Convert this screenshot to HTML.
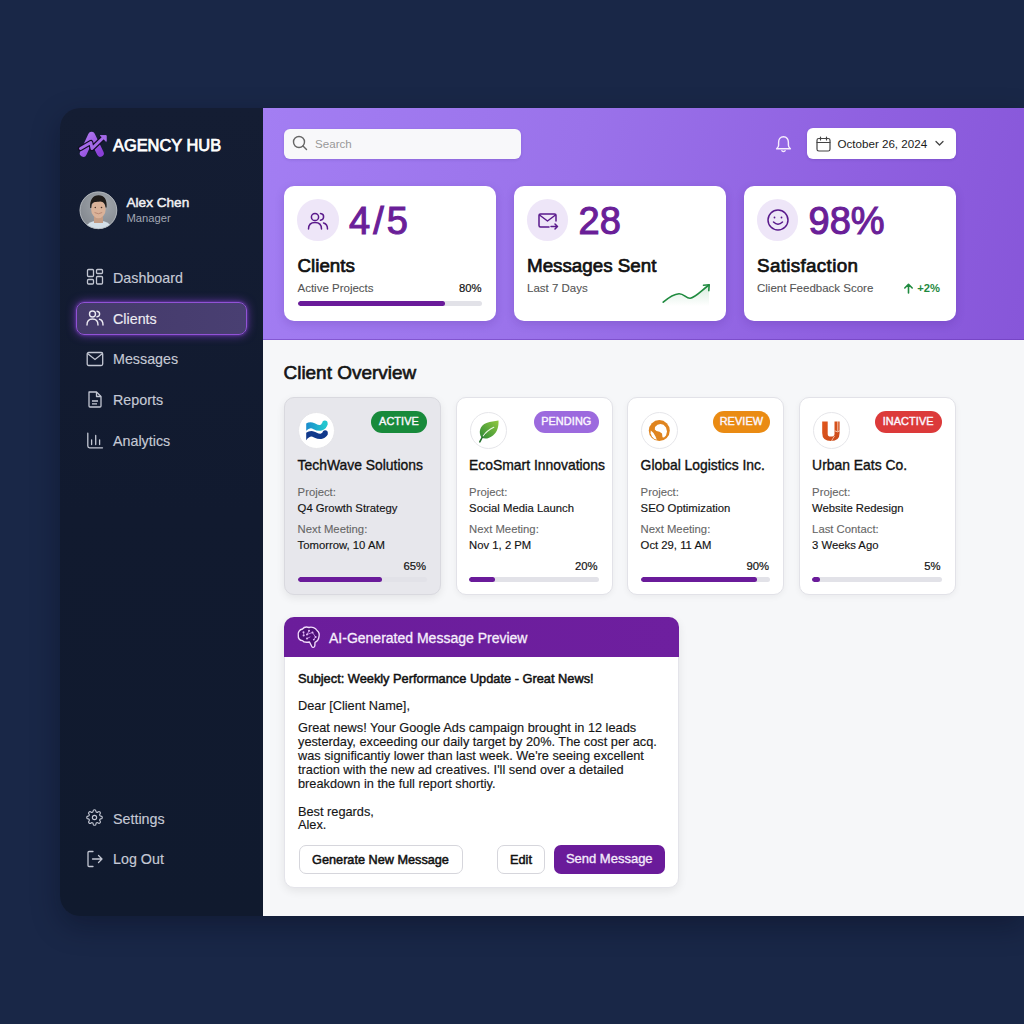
<!DOCTYPE html>
<html><head><meta charset="utf-8">
<style>
*{margin:0;padding:0;box-sizing:border-box}
html,body{width:1024px;height:1024px;overflow:hidden}
body{background:#192747;font-family:"Liberation Sans",sans-serif;position:relative;color:#111}
.a{position:absolute;white-space:nowrap;line-height:1}
.panel{position:absolute;left:60px;top:108px;width:964px;height:808px;border-radius:20px 0 0 20px;overflow:hidden;box-shadow:0 10px 28px rgba(5,10,25,0.35)}
.main{position:absolute;left:202.5px;top:0;right:0;bottom:0;background:#f6f7f9}
.side{position:absolute;left:0;top:0;width:202.5px;height:808px;background:linear-gradient(180deg,#141d33 0%,#111a2f 50%,#101a2e 100%)}
.hdr{position:absolute;left:202.5px;top:0;right:0;height:232px;border-bottom:1px solid rgba(95,45,170,0.45);background:linear-gradient(105deg,#a37ef3 0%,#9a72ea 40%,#8f60e0 75%,#8756d9 100%)}
.nav{color:#c5c9d5;font-size:14.3px;-webkit-text-stroke:0.15px #c5c9d5}
.card{position:absolute;background:#fff;border-radius:10px;box-shadow:0 3px 10px rgba(60,20,120,0.18)}
.ic{position:absolute;border-radius:50%;background:#eee6f8}
.big{color:#6a1f98;font-size:38px;-webkit-text-stroke:1.1px #6a1f98}
.ttl{font-size:18.8px;color:#111;-webkit-text-stroke:0.7px #111}
.sub{font-size:11.5px;color:#555;-webkit-text-stroke:0.1px #555}
.bar{position:absolute;height:5px;border-radius:3px;background:#e2e2e8;overflow:hidden}
.bar i{position:absolute;left:0;top:0;bottom:0;background:#6a1b9a;border-radius:3px}
.cc{position:absolute;top:397px;width:157px;height:198px;background:#fff;border:1px solid #e2e2e8;border-radius:10px;box-shadow:0 2px 6px rgba(0,0,0,0.05)}
.logo{position:absolute;left:13px;top:13.5px;width:37px;height:37px;border-radius:50%;background:#fff;border:1px solid #e6e6ea}
.badge{position:absolute;right:13px;top:13px;height:21.5px;border-radius:11px;color:#fbf6fe;font-size:10.9px;line-height:21.5px;text-align:center;-webkit-text-stroke:0.4px #fbf6fe;letter-spacing:0.1px}
.cn{font-size:13.9px;color:#111;-webkit-text-stroke:0.35px #111}
.lb{font-size:11.3px;color:#666;-webkit-text-stroke:0.1px #666}
.vl{font-size:11.3px;color:#141414;-webkit-text-stroke:0.15px #141414}
.pc{font-size:11.3px;color:#141414;-webkit-text-stroke:0.2px #141414}
.btn{position:absolute;top:845px;height:28.5px;border-radius:7px;font-size:12.7px;line-height:28.5px;text-align:center;-webkit-text-stroke:0.5px #111}
</style></head><body>
<div class="panel">
  <div class="main"></div>
  <div class="side"></div>
  <div class="hdr"></div>
</div>

<!-- SIDEBAR -->
<svg class="a" style="left:74px;top:126px" width="36" height="34" viewBox="0 0 36 34">
  <defs><linearGradient id="lg" x1="0" y1="0" x2="1" y2="1"><stop offset="0" stop-color="#b07af0"/><stop offset="1" stop-color="#8a3fd8"/></linearGradient></defs>
  <path d="M9.3 27.3 L17.6 9.3 L26.3 27.3" fill="none" stroke="url(#lg)" stroke-width="7" stroke-linecap="round" stroke-linejoin="round"/>
  <path d="M6.5 22.5 L16.8 16.5 L18 22.5 L29.5 11.5" fill="none" stroke="#120d24" stroke-width="5.2" stroke-linecap="round" stroke-linejoin="round"/>
  <path d="M6.5 22.5 L16.8 16.5 L18 22.5 L29.5 11.5" fill="none" stroke="#a46ae8" stroke-width="3" stroke-linecap="round" stroke-linejoin="round"/>
  <path d="M26.3 9.6 L32.2 9.6 L32.2 15.4 Z" fill="#a46ae8" stroke="#a46ae8" stroke-width="1" stroke-linejoin="round"/>
</svg>
<div class="a" style="left:113px;top:137.3px;font-size:16.4px;color:#fff;-webkit-text-stroke:0.75px #fff">AGENCY HUB</div>

<svg class="a" style="left:79px;top:190.5px" width="39" height="39" viewBox="0 0 39 39">
  <defs><clipPath id="avc"><circle cx="19.4" cy="19.3" r="18.6"/></clipPath>
  <radialGradient id="avbg" cx="0.6" cy="0.35" r="0.75"><stop offset="0" stop-color="#a3a8ae"/><stop offset="1" stop-color="#7f848b"/></radialGradient></defs>
  <g clip-path="url(#avc)">
    <rect width="39" height="39" fill="url(#avbg)"/>
    <ellipse cx="19.6" cy="42" rx="15.5" ry="12.5" fill="#d4dfe8"/>
    <rect x="15" y="23" width="9" height="9" fill="#c49c84"/>
    <ellipse cx="19.4" cy="18" rx="7.3" ry="9.2" fill="#dab299"/>
    <path d="M11.2 17 C 10.6 8.5, 14 4.3, 19.6 4.3 C 25.2 4.3, 28.2 8.5, 27.6 16.5 L 26.6 16.5 C 26.2 12.5, 24.5 10.6, 21.2 10.4 C 17 10.8, 13.8 10.6, 12.6 13.6 L 12.2 17 Z" fill="#1f1b19"/>
    <path d="M15.6 21.5 Q19.4 24 23.2 21.5" stroke="#b07e6a" stroke-width="0.8" fill="none"/>
    <circle cx="16.3" cy="16.5" r="0.8" fill="#4a3428"/><circle cx="22.5" cy="16.5" r="0.8" fill="#4a3428"/>
  </g>
  <circle cx="19.4" cy="19.3" r="18.4" fill="none" stroke="#b5bac0" stroke-width="0.9"/>
</svg>
<div class="a" style="left:126.5px;top:196px;font-size:13.6px;color:#f2f2f5;-webkit-text-stroke:0.45px #f2f2f5">Alex Chen</div>
<div class="a" style="left:126.5px;top:213px;font-size:11.2px;color:#a3a8b5">Manager</div>

<!-- nav icons -->
<svg class="a" style="left:86px;top:268px" width="18" height="18" viewBox="0 0 18 18" fill="none" stroke="#c3c7d3" stroke-width="1.3">
  <rect x="1.5" y="1.5" width="6" height="7" rx="1"/><rect x="10.5" y="1.5" width="6" height="4" rx="1"/><rect x="1.5" y="11.5" width="6" height="4.5" rx="1"/><rect x="10.5" y="8.5" width="6" height="7.5" rx="1"/>
</svg>
<div class="a nav" style="left:113px;top:271.0px">Dashboard</div>

<div class="a" style="left:76px;top:302px;width:171px;height:33px;border-radius:8px;background:linear-gradient(90deg,#443a6a,#493f72);border:1.5px solid #9152d6;box-shadow:0 0 10px rgba(145,70,225,0.7),0 0 3px rgba(145,70,225,0.6)"></div>
<svg class="a" style="left:86px;top:309px" width="18" height="18" viewBox="0 0 18 18" fill="none" stroke="#eceaf2" stroke-width="1.4" stroke-linecap="round">
  <circle cx="6.5" cy="5" r="3"/><path d="M1 16 Q1 10 6.5 10 Q12 10 12 16"/><path d="M11 2.2 Q13.8 2.6 13.6 5.2 Q13.4 7.4 11 7.8"/><path d="M13.5 10.3 Q17 11.2 17 16"/>
</svg>
<div class="a nav" style="left:113px;top:312.0px;color:#eceaf2;-webkit-text-stroke:0.15px #eceaf2">Clients</div>

<svg class="a" style="left:86px;top:350px" width="18" height="18" viewBox="0 0 18 18" fill="none" stroke="#c3c7d3" stroke-width="1.3">
  <rect x="1.2" y="2.5" width="15.5" height="13" rx="1.5"/><path d="M1.5 3.5 L9 9.5 L16.5 3.5"/>
</svg>
<div class="a nav" style="left:113px;top:352.35px">Messages</div>

<svg class="a" style="left:86px;top:390px" width="18" height="18" viewBox="0 0 18 18" fill="none" stroke="#c3c7d3" stroke-width="1.3" stroke-linejoin="round">
  <path d="M3 2 L10.5 2 L15 6.5 L15 16 Q15 17 14 17 L4 17 Q3 17 3 16 Z"/><path d="M10.5 2 L10.5 6.5 L15 6.5"/><path d="M6 11 L12 11 M6 13.8 L11 13.8"/>
</svg>
<div class="a nav" style="left:113px;top:392.85px">Reports</div>

<svg class="a" style="left:86px;top:431px" width="18" height="18" viewBox="0 0 18 18" fill="none" stroke="#c3c7d3" stroke-width="1.3" stroke-linecap="round">
  <path d="M1.8 2.2 L1.8 15 Q1.8 16.8 3.6 16.8 L16.5 16.8"/><path d="M5.6 8.8 L5.6 13.5 M9.7 4.4 L9.7 13.5 M13.6 8.8 L13.6 13.5"/>
</svg>
<div class="a nav" style="left:113px;top:433.85px">Analytics</div>

<svg class="a" style="left:86.3px;top:808.8px" width="17" height="17" viewBox="0 0 24 24" fill="none" stroke="#c3c7d3" stroke-width="1.6">
  <circle cx="12" cy="12" r="3"/><path d="M19.4 15a1.65 1.65 0 0 0 .33 1.82l.06.06a2 2 0 0 1-2.83 2.83l-.06-.06a1.65 1.65 0 0 0-1.82-.33 1.65 1.65 0 0 0-1 1.51V21a2 2 0 0 1-4 0v-.09A1.65 1.65 0 0 0 9 19.4a1.65 1.65 0 0 0-1.82.33l-.06.06a2 2 0 0 1-2.830-2.83l.06-.06A1.65 1.65 0 0 0 4.6 15a1.65 1.65 0 0 0-1.51-1H3a2 2 0 0 1 0-4h.09A1.65 1.65 0 0 0 4.6 9a1.65 1.65 0 0 0-.33-1.82l-.06-.06a2 2 0 0 1 2.83-2.83l.06.06A1.65 1.65 0 0 0 9 4.6a1.65 1.65 0 0 0 1-1.51V3a2 2 0 0 1 4 0v.09a1.65 1.65 0 0 0 1 1.51 1.65 1.65 0 0 0 1.82-.33l.06-.06a2 2 0 0 1 2.83 2.83l-.06.06A1.65 1.650 0 0 0 19.4 9a1.65 1.65 0 0 0 1.51 1H21a2 2 0 0 1 0 4h-.09a1.65 1.65 0 0 0-1.51 1z"/>
</svg>
<div class="a nav" style="left:113px;top:811.65px">Settings</div>

<svg class="a" style="left:86px;top:849.8px" width="18" height="18" viewBox="0 0 18 18" fill="none" stroke="#c3c7d3" stroke-width="1.3" stroke-linecap="round" stroke-linejoin="round">
  <path d="M7 1.5 L3 1.5 Q2 1.5 2 2.5 L2 15.5 Q2 16.5 3 16.5 L7 16.5"/><path d="M6.5 9 L16 9 M12.5 5.5 L16 9 L12.5 12.5"/>
</svg>
<div class="a nav" style="left:113px;top:851.7px">Log Out</div>

<!-- HEADER -->
<div class="a" style="left:284px;top:128.5px;width:237px;height:30px;border-radius:6px;background:#f8f8fa;box-shadow:0 1px 3px rgba(50,20,100,0.15)"></div>
<svg class="a" style="left:292px;top:135px" width="16" height="16" viewBox="0 0 16 16" fill="none" stroke="#666" stroke-width="1.4" stroke-linecap="round">
  <circle cx="7" cy="7" r="5.5"/><path d="M11 11 L14.5 14.5"/>
</svg>
<div class="a" style="left:315px;top:137.6px;font-size:11.6px;color:#999">Search</div>

<svg class="a" style="left:775px;top:135px" width="17" height="18" viewBox="0 0 17 18" fill="none" stroke="#f7eefd" stroke-width="1.4" stroke-linejoin="round" stroke-linecap="round">
  <path d="M8.5 1.8 C 5.2 1.8, 3.6 4.3, 3.6 7.4 L 3.6 10.2 C 3.6 11.8, 2.6 12.9, 1.6 13.7 L 15.4 13.7 C 14.4 12.9, 13.4 11.8, 13.4 10.2 L 13.4 7.4 C 13.4 4.3, 11.8 1.8, 8.5 1.8 Z"/><path d="M6.9 15.7 Q8.5 17.2 10.1 15.7"/>
</svg>
<div class="a" style="left:807px;top:128px;width:149px;height:30.5px;border-radius:6px;background:#fff;box-shadow:0 1px 3px rgba(50,20,100,0.15)"></div>
<svg class="a" style="left:816px;top:135.5px" width="15" height="16" viewBox="0 0 15 16" fill="none" stroke="#444" stroke-width="1.2" stroke-linecap="round">
  <rect x="1" y="2.5" width="13" height="12.5" rx="1.8"/><path d="M1 6.5 L14 6.5 M4.5 1 L4.5 4 M10.5 1 L10.5 4"/>
</svg>
<div class="a" style="left:837.5px;top:137.8px;font-size:11.6px;color:#1a1a1a">October 26, 2024</div>
<svg class="a" style="left:934px;top:139px" width="11" height="9" viewBox="0 0 11 9" fill="none" stroke="#444" stroke-width="1.3" stroke-linecap="round" stroke-linejoin="round">
  <path d="M2 2.5 L5.5 6 L9 2.5"/>
</svg>

<!-- STAT CARDS -->
<div class="card" style="left:284px;top:185.5px;width:212px;height:135px"></div>
<div class="ic" style="left:297.3px;top:199.3px;width:41.5px;height:41.5px"></div>
<svg class="a" style="left:306px;top:208.5px" width="24" height="24" viewBox="0 0 24 24" fill="none" stroke="#5a1a8c" stroke-width="1.5" stroke-linecap="round">
  <circle cx="9" cy="8" r="3.6"/><path d="M2.5 20 Q2.5 13.5 9 13.5 Q15.5 13.5 15.5 20"/><path d="M14.5 4.6 Q17.8 5 17.6 8 Q17.4 10.8 14.5 11.3"/><path d="M17.5 14 Q21.5 15 21.5 20"/>
</svg>
<div class="a big" style="left:349px;top:201.5px;letter-spacing:3px">4/5</div>
<div class="a ttl" style="left:297.5px;top:256.6px">Clients</div>
<div class="a sub" style="left:297.5px;top:282.9px">Active Projects</div>
<div class="a pc" style="left:440px;width:41.5px;text-align:right;top:282.6px">80%</div>
<div class="bar" style="left:297.5px;top:301.3px;width:184px"><i style="width:80%"></i></div>

<div class="card" style="left:513.5px;top:185.5px;width:212px;height:135px"></div>
<div class="ic" style="left:526.8px;top:199.3px;width:41.5px;height:41.5px"></div>
<svg class="a" style="left:535.5px;top:208.7px" width="24" height="24" viewBox="0 0 24 24" fill="none" stroke="#5a1a8c" stroke-width="1.5" stroke-linecap="round" stroke-linejoin="round">
  <path d="M13 18 L4.5 18 Q3 18 3 16.5 L3 6.5 Q3 5 4.5 5 L18.5 5 Q20 5 20 6.5 L20 12"/><path d="M3.5 6 L11.5 12 L19.5 6"/><path d="M15 17.5 L21.5 17.5 M19 15 L21.5 17.5 L19 20"/>
</svg>
<div class="a big" style="left:578.5px;top:201.5px">28</div>
<div class="a ttl" style="left:527px;top:256.6px">Messages Sent</div>
<div class="a sub" style="left:527px;top:282.9px">Last 7 Days</div>
<svg class="a" style="left:660px;top:282px" width="52" height="26" viewBox="0 0 52 26">
  <defs><linearGradient id="sg" x1="0" y1="0" x2="0" y2="1"><stop offset="0" stop-color="#3aa05a" stop-opacity="0.2"/><stop offset="1" stop-color="#3aa05a" stop-opacity="0"/></linearGradient></defs>
  <path d="M3.2 20.2 C 8 16, 13 12, 19 11.7 C 24 11.5, 26 16.5, 30.2 16.2 C 35 16, 42 8, 49 3 L49 24 L3.2 24 Z" fill="url(#sg)"/>
  <path d="M3.2 20.2 C 8 16, 13 12, 19 11.7 C 24 11.5, 26 16.5, 30.2 16.2 C 35 16, 42 8, 49 3" fill="none" stroke="#1f8a3f" stroke-width="1.6" stroke-linecap="round"/>
  <path d="M43.5 3.2 L49.2 2.8 L48.8 8.6" fill="none" stroke="#1f8a3f" stroke-width="1.6" stroke-linecap="round" stroke-linejoin="round"/>
</svg>

<div class="card" style="left:743.5px;top:185.5px;width:212px;height:135px"></div>
<div class="ic" style="left:756.8px;top:199.3px;width:41.5px;height:41.5px"></div>
<svg class="a" style="left:765.5px;top:208.3px" width="24" height="24" viewBox="0 0 24 24" fill="none" stroke="#5a1a8c" stroke-width="1.5" stroke-linecap="round">
  <circle cx="12" cy="12" r="10"/><circle cx="8.5" cy="9.5" r="0.9" fill="#5a1a8c" stroke="none"/><circle cx="15.5" cy="9.5" r="0.9" fill="#5a1a8c" stroke="none"/><path d="M7.5 14 Q12 18.5 16.5 14"/>
</svg>
<div class="a big" style="left:808.5px;top:201.5px">98%</div>
<div class="a ttl" style="left:757px;top:256.6px;letter-spacing:0.35px">Satisfaction</div>
<div class="a sub" style="left:757px;top:282.9px">Client Feedback Score</div>
<svg class="a" style="left:903px;top:283px" width="11" height="11" viewBox="0 0 11 11" fill="none" stroke="#1f8a3f" stroke-width="1.6" stroke-linecap="round" stroke-linejoin="round">
  <path d="M5.5 10 L5.5 1.5 M1.8 5 L5.5 1.3 L9.2 5"/>
</svg>
<div class="a" style="left:900px;width:40px;text-align:right;top:282.6px;font-size:11.2px;color:#1f8a3f;font-weight:bold">+2%</div>

<!-- CLIENT OVERVIEW -->
<div class="a" style="left:283.5px;top:363.7px;font-size:18.95px;color:#151515;-webkit-text-stroke:0.65px #151515">Client Overview</div>

<div class="cc" style="left:284px;background:#e7e7ec;border-color:#d9d9df;box-shadow:0 3px 8px rgba(0,0,0,0.08)"></div>
<div class="cc" style="left:455.5px"></div>
<div class="cc" style="left:627px"></div>
<div class="cc" style="left:798.5px"></div>
<div class="logo" style="left:298px;top:411.5px;position:absolute"></div>
<svg class="a" style="left:298px;top:411.5px" width="37" height="37" viewBox="0 0 37 37">
<defs><linearGradient id="twg" x1="0" y1="0" x2="1" y2="0"><stop offset="0" stop-color="#1a84cc"/><stop offset="1" stop-color="#22c6cf"/></linearGradient>
<clipPath id="twc"><rect x="8.2" y="0" width="30" height="37"/></clipPath></defs>
<g clip-path="url(#twc)">
<path d="M6 16.8 C 9 13.6, 12.5 12.6, 15.5 13.9 C 18 15.2, 20 16.6, 23 15.7 C 25.3 15, 26.4 13.4, 26.8 11.6" fill="none" stroke="url(#twg)" stroke-width="5.8"/>
<circle cx="26.9" cy="11.2" r="2.7" fill="#22c6cf"/>
<path d="M6 26.5 C 9 22.8, 12.5 21, 15.5 22.2 C 18 23.2, 20.5 25, 23.5 24.2 C 25.5 23.6, 26.8 22.6, 27.3 21" fill="none" stroke="#10398b" stroke-width="5.4"/>
<circle cx="27.2" cy="20.8" r="2.6" fill="#10398b"/>
</g>
</svg>
<div class="badge" style="left:370.7px;top:411px;width:56.6px;background:#188a3b">ACTIVE</div>
<div class="a cn" style="left:297.6px;top:459.2px">TechWave Solutions</div>
<div class="a lb" style="left:297.6px;top:487.4px">Project:</div>
<div class="a vl" style="left:297.6px;top:503.1px">Q4 Growth Strategy</div>
<div class="a lb" style="left:297.6px;top:524.4px">Next Meeting:</div>
<div class="a vl" style="left:297.6px;top:540.4px">Tomorrow, 10 AM</div>
<div class="a pc" style="left:384px;width:42px;text-align:right;top:561.4px">65%</div>
<div class="bar" style="left:297.5px;top:576.6px;width:129.5px"><i style="width:65%"></i></div>
<div class="logo" style="left:469.5px;top:411.5px;position:absolute"></div>
<svg class="a" style="left:469.5px;top:411.5px" width="37" height="37" viewBox="0 0 37 37">
<defs><linearGradient id="lf" x1="0" y1="1" x2="1" y2="0"><stop offset="0" stop-color="#2b8a36"/><stop offset="1" stop-color="#92c840"/></linearGradient></defs>
<path d="M11.5 25.5 C 8 20, 10 13.5, 16.5 11 C 20.5 9.5, 24.5 9.5, 28.5 8.5 C 28.8 14, 27.5 20, 23 23.5 C 19 26.8, 14.5 27.5, 11.5 25.5 Z" fill="url(#lf)"/>
<path d="M9.8 29.8 Q 12 25, 15 22" stroke="#236e2c" stroke-width="1.6" fill="none" stroke-linecap="round"/>
<path d="M13.2 24 Q 17 18.5, 23.8 15.3" stroke="#e8f8e0" stroke-width="1.1" fill="none" stroke-linecap="round"/>
</svg>
<div class="badge" style="left:533.8px;top:411px;width:65px;background:#9c6ade">PENDING</div>
<div class="a cn" style="left:469.1px;top:459.2px">EcoSmart Innovations</div>
<div class="a lb" style="left:469.1px;top:487.4px">Project:</div>
<div class="a vl" style="left:469.1px;top:503.1px">Social Media Launch</div>
<div class="a lb" style="left:469.1px;top:524.4px">Next Meeting:</div>
<div class="a vl" style="left:469.1px;top:540.4px">Nov 1, 2 PM</div>
<div class="a pc" style="left:555.5px;width:42px;text-align:right;top:561.4px">20%</div>
<div class="bar" style="left:469.0px;top:576.6px;width:129.5px"><i style="width:20%"></i></div>
<div class="logo" style="left:641px;top:411.5px;position:absolute"></div>
<svg class="a" style="left:641px;top:411.5px" width="37" height="37" viewBox="0 0 37 37">
<circle cx="18.3" cy="18.6" r="10.5" fill="#df841f"/>
<path d="M14 15 L16.5 12.8 L19.5 12 L22.5 12.8 L25 15.5 L26 19.5 L25 23.5 L23 25.5 L21.5 25.3 L21 21.5 L18.5 19.8 L15.5 19 L13.8 17.5 Z" fill="#fff"/>
<path d="M9.8 18.5 L12.5 21 L14.5 24.5 L15.8 27.8 L13 26.8 L10.8 24.2 L9.6 21.2 Z" fill="#fff"/>
</svg>
<div class="badge" style="left:712.6px;top:411px;width:57.7px;background:#ea8b13">REVIEW</div>
<div class="a cn" style="left:640.6px;top:459.2px">Global Logistics Inc.</div>
<div class="a lb" style="left:640.6px;top:487.4px">Project:</div>
<div class="a vl" style="left:640.6px;top:503.1px">SEO Optimization</div>
<div class="a lb" style="left:640.6px;top:524.4px">Next Meeting:</div>
<div class="a vl" style="left:640.6px;top:540.4px">Oct 29, 11 AM</div>
<div class="a pc" style="left:727px;width:42px;text-align:right;top:561.4px">90%</div>
<div class="bar" style="left:640.5px;top:576.6px;width:129.5px"><i style="width:90%"></i></div>
<div class="logo" style="left:812.5px;top:411.5px;position:absolute"></div>
<svg class="a" style="left:812.5px;top:411.5px" width="37" height="37" viewBox="0 0 37 37">
<defs><linearGradient id="ug" x1="0" y1="0" x2="1" y2="1"><stop offset="0" stop-color="#e0561c"/><stop offset="1" stop-color="#c94a1a"/></linearGradient></defs>
<path d="M9.2 9.4 L14.7 9.4 L14.7 22 Q14.7 24.6 17.8 24.6 Q21.5 24.6 21.5 22 L21.5 9.4 L26.6 9.4 L26.6 21 Q26.6 29 18 29 Q9.2 29 9.2 21 Z" fill="url(#ug)"/>
<path d="M24.8 9.4 L24.8 19 M22 19 Q24.8 21 26.6 19" stroke="#fbe3d4" stroke-width="0.8" fill="none" stroke-linecap="round"/>
<path d="M21.5 24 Q19.5 27 18.5 29" stroke="#fbe3d4" stroke-width="0.7" fill="none"/>
</svg>
<div class="badge" style="left:874.5px;top:411px;width:67.3px;background:#dc3a3a">INACTIVE</div>
<div class="a cn" style="left:812.1px;top:459.2px">Urban Eats Co.</div>
<div class="a lb" style="left:812.1px;top:487.4px">Project:</div>
<div class="a vl" style="left:812.1px;top:503.1px">Website Redesign</div>
<div class="a lb" style="left:812.1px;top:524.4px">Last Contact:</div>
<div class="a vl" style="left:812.1px;top:540.4px">3 Weeks Ago</div>
<div class="a pc" style="left:898.5px;width:42px;text-align:right;top:561.4px">5%</div>
<div class="bar" style="left:812.0px;top:576.6px;width:129.5px"><i style="width:6%"></i></div>
<!-- AI CARD -->
<div class="a" style="left:284px;top:616.5px;width:395px;height:271.2px;border-radius:10px;background:#fff;box-shadow:0 3px 10px rgba(0,0,0,0.08);border:1px solid #e4e4ea"></div>
<div class="a" style="left:284px;top:616.5px;width:395px;height:40.5px;border-radius:10px 10px 0 0;background:linear-gradient(90deg,#6b1d9b,#6e1f9f)"></div>
<svg class="a" style="left:294px;top:622px" width="30" height="30" viewBox="0 0 30 30">
  <path d="M15.5 20 C 12 20.6, 9.5 20.6, 8.5 18.6 C 5.5 18.6, 4 16, 4.3 13.5 C 3.5 10.5, 5.5 7.5, 8.5 7 C 10 5, 13 4.8, 15 5.5 C 18 4.5, 21.5 6, 23 8.5 C 25 10, 25.6 13, 24.8 15.5 C 24.5 18, 23 19.5, 21 20.3 L 20.8 24 C 20.5 25.6, 18.5 25.9, 17.8 24.5 Z" fill="#4e1078" stroke="#f2dcfc" stroke-width="1.35" stroke-linejoin="round"/>
  <g stroke="#c58fe6" stroke-width="0.9" fill="none" stroke-linecap="round"><path d="M9.5 10.5 L10 13.5 M13 12.5 L15 9 M13 12.5 L18.5 10.5 M18.5 10.5 L21.5 15 M13 16.5 L16 15 M20 17.5 L21.5 15"/></g>
  <g fill="#e2b8f7"><circle cx="9.5" cy="10.3" r="1"/><circle cx="9.6" cy="13.6" r="1"/><circle cx="13" cy="12.5" r="1"/><circle cx="15" cy="8.8" r="1"/><circle cx="18.5" cy="10.5" r="1"/><circle cx="21.6" cy="15" r="1"/><circle cx="13" cy="16.6" r="1"/><circle cx="19.8" cy="17.6" r="0.9"/></g>
</svg>
<div class="a" style="left:329px;top:630.7px;font-size:14px;color:#f6effc;-webkit-text-stroke:0.3px #f6effc">AI-Generated Message Preview</div>
<div class="a" style="left:298px;top:672.7px;font-size:12.8px;color:#111;-webkit-text-stroke:0.5px #111">Subject: Weekly Performance Update - Great News!</div>
<div class="a" style="left:298px;top:700px;font-size:12.75px;color:#161616;-webkit-text-stroke:0.15px #161616">Dear [Client Name],</div>
<div class="a" style="left:298px;top:720.6px;font-size:12.75px;line-height:14.1px;color:#161616;-webkit-text-stroke:0.15px #161616">Great news! Your Google Ads campaign brought in 12 leads<br>yesterday, exceeding our daily target by 20%. The cost per acq.<br>was significantiy lower than last week. We're seeing excellent<br>traction with the new ad creatives. I'll send over a detailed<br>breakdown in the full report shortiy.</div>
<div class="a" style="left:298px;top:804.5px;font-size:12.75px;line-height:13.8px;color:#161616;-webkit-text-stroke:0.15px #161616">Best regards,<br>Alex.</div>
<div class="btn" style="left:298.5px;width:164px;background:#fff;border:1px solid #d6d6dc;color:#111">Generate New Message</div>
<div class="btn" style="left:497px;width:48px;background:#fff;border:1px solid #d6d6dc;color:#111">Edit</div>
<div class="btn" style="left:553.5px;width:111.5px;background:#6a1b9a;color:#f3eafa;-webkit-text-stroke:0.35px #f3eafa;font-size:13px">Send Message</div>

</body></html>
